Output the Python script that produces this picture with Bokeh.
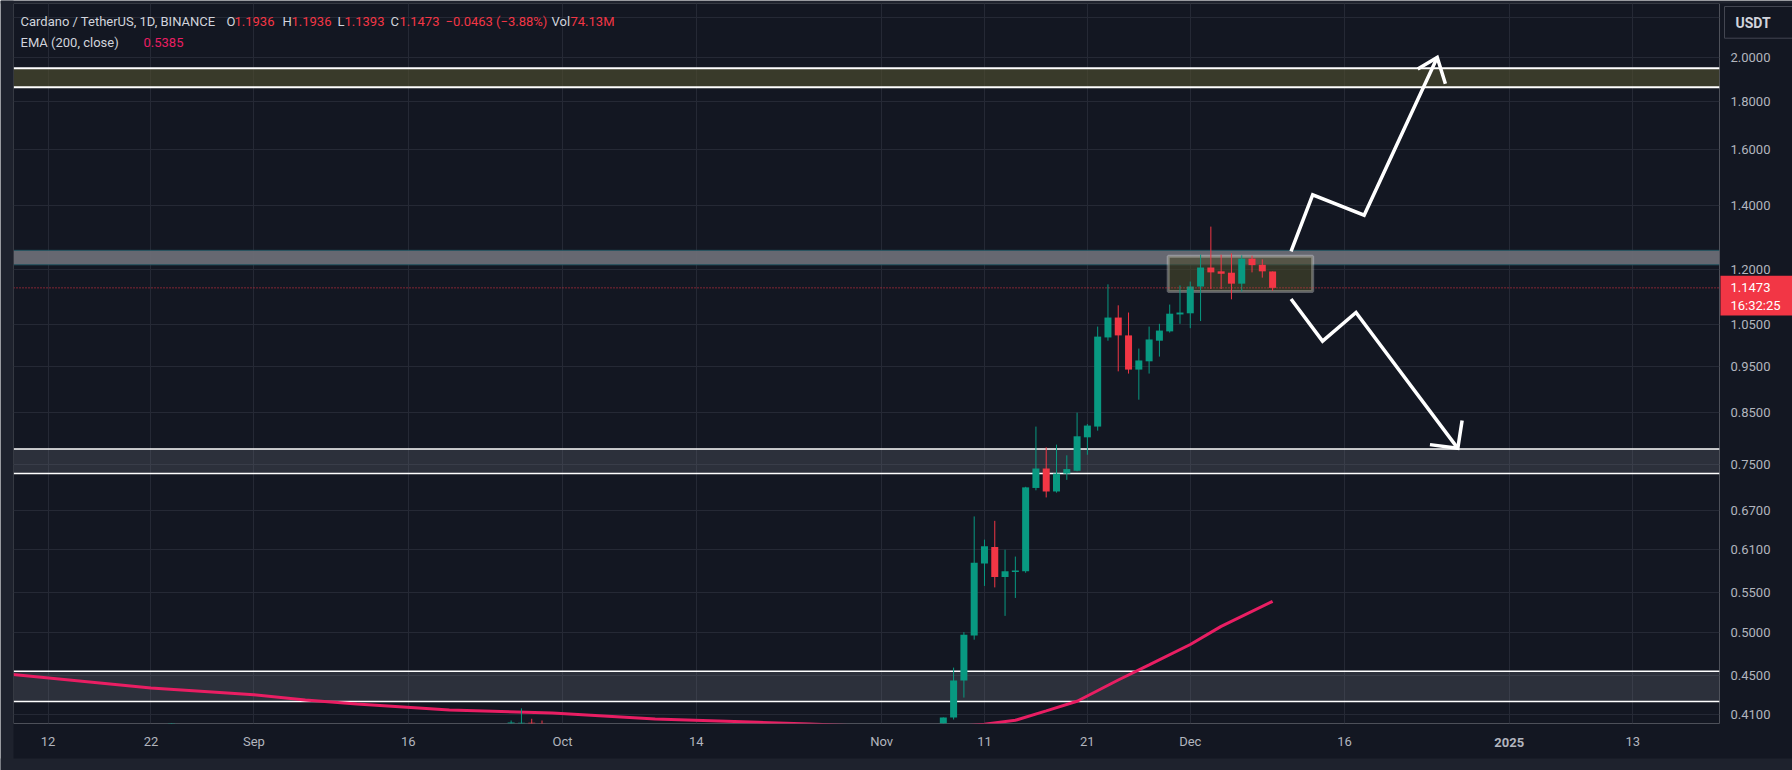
import math
import pandas as pd
from bokeh.plotting import figure
from bokeh.models import (Range1d, FixedTicker, PrintfTickFormatter, Span,
                          BoxAnnotation, Label, ColumnDataSource, GridBox)
from bokeh.layouts import column
from bokeh.core.properties import value
from bokeh.embed import file_html
from bokeh.resources import INLINE

# ---------------- data ----------------
ORIGIN = "2024-08-12"
VIEW_START = "2024-08-08 15:20"
VIEW_END = "2025-01-21 10:20"
PRICE_MIN = 0.4011
PRICE_MAX = 2.2783

candle_dates = [
    "2024-08-24", "2024-09-26", "2024-09-27", "2024-09-28", "2024-09-29",
    "2024-11-07", "2024-11-08", "2024-11-09", "2024-11-10", "2024-11-11",
    "2024-11-12", "2024-11-13", "2024-11-14", "2024-11-15", "2024-11-16",
    "2024-11-17", "2024-11-18", "2024-11-19", "2024-11-20", "2024-11-21",
    "2024-11-22", "2024-11-23", "2024-11-24", "2024-11-25", "2024-11-26",
    "2024-11-27", "2024-11-28", "2024-11-29", "2024-11-30", "2024-12-01",
    "2024-12-02", "2024-12-03", "2024-12-04", "2024-12-05", "2024-12-06",
    "2024-12-07", "2024-12-08", "2024-12-09",
]
opens = [0.390, 0.388, 0.4012, 0.4018, 0.4013,
         0.390, 0.407, 0.445, 0.496, 0.590, 0.614, 0.571, 0.578, 0.579, 0.708,
         0.742, 0.702, 0.733, 0.738, 0.800, 0.821, 1.018, 1.068, 1.023, 0.942,
         0.961, 1.010, 1.033, 1.076, 1.079, 1.151, 1.205, 1.194, 1.190, 1.159,
         1.231, 1.213, 1.1936]
highs = [0.4015, 0.404, 0.416, 0.4057, 0.404,
         0.407, 0.459, 0.500, 0.661, 0.625, 0.654, 0.610, 0.600, 0.710, 0.821,
         0.781, 0.786, 0.766, 0.849, 0.826, 1.045, 1.157, 1.100, 1.081, 0.991,
         1.045, 1.052, 1.102, 1.154, 1.165, 1.243, 1.330, 1.243, 1.247, 1.241,
         1.240, 1.229, 1.1936]
lows = [0.383, 0.383, 0.392, 0.392, 0.390,
        0.380, 0.405, 0.427, 0.491, 0.559, 0.557, 0.520, 0.543, 0.577, 0.704,
        0.692, 0.700, 0.722, 0.737, 0.767, 0.813, 1.010, 0.938, 0.933, 0.876,
        0.933, 0.972, 1.030, 1.052, 1.041, 1.059, 1.144, 1.144, 1.116, 1.137,
        1.191, 1.176, 1.1393]
closes = [0.395, 0.402, 0.4018, 0.399, 0.395,
          0.407, 0.445, 0.497, 0.591, 0.615, 0.571, 0.579, 0.580, 0.709, 0.742,
          0.702, 0.733, 0.741, 0.802, 0.823, 1.020, 1.068, 1.023, 0.942, 0.963,
          1.013, 1.035, 1.078, 1.081, 1.151, 1.205, 1.191, 1.187, 1.159, 1.231,
          1.212, 1.194, 1.1473]

ema_dates = ["2024-08-08", "2024-08-22", "2024-09-01", "2024-09-06", "2024-09-11",
             "2024-09-20", "2024-09-30", "2024-10-10", "2024-10-20", "2024-10-25",
             "2024-11-01", "2024-11-07", "2024-11-11", "2024-11-14", "2024-11-17",
             "2024-11-20", "2024-11-24", "2024-11-27", "2024-12-01", "2024-12-04",
             "2024-12-09"]
ema_values = [0.452, 0.437, 0.430, 0.4246, 0.4204,
              0.4143, 0.4115, 0.4055, 0.4022, 0.4005,
              0.398, 0.397, 0.4005, 0.4042, 0.4135,
              0.4232, 0.4455, 0.462, 0.4853, 0.507,
              0.5385]

price_ticks = [0.41, 0.45, 0.50, 0.55, 0.61, 0.67, 0.75, 0.85, 0.95, 1.05,
               1.20, 1.40, 1.60, 1.80, 2.00]
hidden_grid_ticks = [2.20]

time_tick_dates = ["2024-08-12", "2024-08-22", "2024-09-01", "2024-09-16",
                   "2024-10-01", "2024-10-14", "2024-11-01", "2024-11-11",
                   "2024-11-21", "2024-12-01", "2024-12-16", "2025-01-01",
                   "2025-01-13"]
time_tick_labels = ["12", "22", "Sep", "16", "Oct", "14", "Nov", "11", "21",
                    "Dec", "16", "2025", "13"]
bold_tick_labels = ["2025"]

zone_bottoms = [1.862, 1.213, 0.733, 0.423]
zone_tops = [1.949, 1.256, 0.778, 0.455]

range_box_dates = ["2024-11-28 20:30", "2024-12-12 21:30"]
range_box_prices = [1.137, 1.238]

up_arrow_dates = ["2024-12-10 19:00", "2024-12-12 21:30", "2024-12-17 21:30", "2024-12-25 00:00"]
up_arrow_prices = [1.253, 1.436, 1.367, 2.000]
up_head_dates = ["2024-12-23 02:30", "2024-12-25 00:00", "2024-12-25 19:00"]
up_head_prices = [1.945, 2.000, 1.877]

down_arrow_dates = ["2024-12-10 19:00", "2024-12-13 20:30", "2024-12-17 02:30", "2024-12-27 00:00"]
down_arrow_prices = [1.117, 1.009, 1.081, 0.779]
down_head_dates = ["2024-12-24 07:00", "2024-12-27 00:00", "2024-12-27 10:00"]
down_head_prices = [0.786, 0.779, 0.833]

last_price = 1.1473
countdown = "16:32:25"
ema_last = 0.5385
volume_text = "74.13M"
currency = "USDT"

# ---------------- styling / geometry ----------------
UP = "#089981"
DOWN = "#f23645"
TXT = "#d1d4dc"
AX = "#b2b5be"
BG = "#131722"
EDGE = "#1e222d"
FONT = "Roboto"
W, H = 1792, 770
FL, FR, FT, FB = 13, 1719, 3, 723      # plot frame on the page


def days(seq):
    o = pd.Timestamp(ORIGIN)
    return [(pd.Timestamp(s) - o) / pd.Timedelta(days=1) for s in seq]


xr = days([VIEW_START, VIEW_END])
k = (FR - FL) / (xr[1] - xr[0])                       # px per day
lnr = math.log(PRICE_MAX / PRICE_MIN) / (FB - FT)     # ln-units per px


def px_day(px):
    return xr[0] + (px - FL) / k


def py_price(py):
    return PRICE_MAX * math.exp(-(py - FT) * lnr)


# ---------------- main chart ----------------
cx = days(candle_dates)
colors = [UP if c >= o else DOWN for o, c in zip(opens, closes)]
src = ColumnDataSource(dict(
    x=cx, o=opens, h=highs, l=lows, c=closes,
    top=[max(o, c) for o, c in zip(opens, closes)],
    bottom=[min(o, c) for o, c in zip(opens, closes)],
    color=colors))

p = figure(width=W, height=H, title=None,
           x_range=Range1d(xr[0], xr[1]),
           y_range=Range1d(PRICE_MIN, PRICE_MAX),
           y_axis_type="log", y_axis_location="right",
           output_backend="svg", toolbar_location=None,
           min_border_left=FL, min_border_top=FT,
           min_border_right=W - FR, min_border_bottom=H - FB,
           background_fill_color=BG, border_fill_color=BG,
           outline_line_color=None)

tick_days = days(time_tick_dates)
p.xgrid.ticker = FixedTicker(ticks=tick_days)
p.ygrid.ticker = FixedTicker(ticks=price_ticks + hidden_grid_ticks)
p.xgrid.grid_line_color = "#252935"
p.ygrid.grid_line_color = "#252935"

p.xaxis.ticker = FixedTicker(ticks=tick_days)
p.xaxis.major_label_overrides = {
    d: ("" if lab in bold_tick_labels else lab)
    for d, lab in zip(tick_days, time_tick_labels)}
p.yaxis.ticker = FixedTicker(ticks=price_ticks)
p.yaxis.formatter = PrintfTickFormatter(format="%.4f")
for ax in (p.xaxis[0], p.yaxis[0]):
    ax.axis_line_color = None
    ax.major_tick_line_color = None
    ax.minor_tick_line_color = None
    ax.major_tick_out = 0
    ax.major_tick_in = 0
    ax.major_label_text_color = AX
    ax.major_label_text_font = FONT
    ax.major_label_text_font_size = "13px"
p.xaxis.major_label_standoff = 10
p.yaxis.major_label_standoff = 11

zone_fills = [("#4e4d30", 0.65), ("#6a6d76", 0.95), ("#787b86", 0.25), ("#787b86", 0.25)]
zone_lines = [("#ffffff", 2), ("#245562", 1), ("#ffffff", 1.5), ("#ffffff", 1.5)]
for lo, hi, (fc, fa), (lc, lw) in zip(zone_bottoms, zone_tops, zone_fills, zone_lines):
    p.add_layout(BoxAnnotation(bottom=lo, top=hi, fill_color=fc, fill_alpha=fa,
                               line_color=None, level="underlay"))
    for loc in (lo, hi):
        p.add_layout(Span(location=loc, dimension="width", line_color=lc,
                          line_width=lw, level="underlay"))

bx = days(range_box_dates)
p.add_layout(BoxAnnotation(left=bx[0], right=bx[1], bottom=range_box_prices[0],
                           top=range_box_prices[1], fill_color="#4a492c",
                           fill_alpha=0.6, line_color="#ffffff", line_width=3,
                           level="underlay"))

p.line(days(ema_dates), ema_values, line_color="#e91e63", line_width=3)

p.segment(x0="x", x1="x", y0="l", y1="h", line_color="color", line_width=1, source=src)
p.vbar(x="x", width=0.68, top="top", bottom="bottom", fill_color="color",
       line_color=None, source=src)

p.add_layout(Span(location=last_price, dimension="width", line_color=DOWN,
                  line_dash="1 2", line_width=1))

for xs, ys in ((up_arrow_dates, up_arrow_prices), (up_head_dates, up_head_prices),
               (down_arrow_dates, down_arrow_prices), (down_head_dates, down_head_prices)):
    p.line(days(xs), ys, line_color="#ffffff", line_width=3.5,
           line_join="miter", line_cap="butt")

FH = FB - FT
def hdr(x, row, text, color):
    y = FH - (17.7 if row == 0 else 38.7)
    p.add_layout(Label(x=x, y=y, x_units="screen", y_units="screen", text=text,
                       text_color=color, text_font=FONT, text_font_size="13px",
                       text_baseline="middle", text_align="left"))

hdr(7, 0, "Cardano / TetherUS, 1D, BINANCE", TXT)
hdr(213, 0, "O", TXT); hdr(221, 0, f"{opens[-1]:.4f}", DOWN)
hdr(269, 0, "H", TXT); hdr(278, 0, f"{highs[-1]:.4f}", DOWN)
hdr(324, 0, "L", TXT); hdr(331, 0, f"{lows[-1]:.4f}", DOWN)
hdr(377, 0, "C", TXT); hdr(386, 0, f"{closes[-1]:.4f}", DOWN)
chg = closes[-1] - opens[-1]
hdr(432, 0, f"\u2212{abs(chg):.4f} (\u2212{abs(chg) / opens[-1] * 100:.2f}%)", DOWN)
hdr(538, 0, "Vol", TXT); hdr(557, 0, volume_text, DOWN)
hdr(7, 1, "EMA (200, close)", TXT)
hdr(130, 1, f"{ema_last:.4f}", "#e91e63")

# ---------------- transparent full-page overlay for the chart chrome ----------------
ov = figure(width=W, height=H, title=None,
            x_range=Range1d(px_day(0), px_day(W)),
            y_range=Range1d(py_price(H), py_price(0)),
            y_axis_type="log", x_axis_location=None, y_axis_location=None,
            output_backend="svg", toolbar_location=None,
            min_border=0, min_border_left=0, min_border_right=0,
            min_border_top=0, min_border_bottom=0,
            background_fill_alpha=0, border_fill_alpha=0,
            outline_line_color=None)
ov.xgrid.visible = False
ov.ygrid.visible = False

# window edges
ov.quad(left=[px_day(0), px_day(0), px_day(0)],
        right=[px_day(FL), px_day(W), px_day(W)],
        bottom=[py_price(H), py_price(FT), py_price(H)],
        top=[py_price(0), py_price(0), py_price(758)],
        fill_color=EDGE, line_color=None)

# bold year tick label
for lab in bold_tick_labels:
    ov.text(x=[tick_days[time_tick_labels.index(lab)]], y=[PRICE_MIN], text=[lab],
            y_offset=19, text_color=AX, text_font=value(FONT),
            text_font_size="13px", text_font_style="bold",
            text_align="center", text_baseline="middle")

# last-price tag
ov.quad(left=[px_day(FR + 1)], right=[px_day(W + 5)],
        top=[py_price(275.3)], bottom=[py_price(315)],
        fill_color=DOWN, line_color=None)
ov.text(x=[px_day(FR + 11), px_day(FR + 11)], y=[last_price, last_price],
        y_offset=[0, 18], text=[f"{last_price:.4f}", countdown],
        text_color="#ffffff", text_font=value(FONT), text_font_size="13px",
        text_align="left", text_baseline="middle")

# currency box
ov.quad(left=[px_day(1724)], right=[px_day(W + 5)],
        top=[py_price(6)], bottom=[py_price(37.7)],
        fill_color=BG, line_color="#434651", line_width=1)
ov.text(x=[px_day(1735)], y=[py_price(22)], text=[currency],
        text_color=TXT, text_font=value(FONT), text_font_size="14px",
        text_font_style="bold",
        text_align="left", text_baseline="middle")

root = GridBox(children=[(column(p), 0, 0), (column(ov), 0, 0)])
open("out.html", "w").write(file_html(root, INLINE))
